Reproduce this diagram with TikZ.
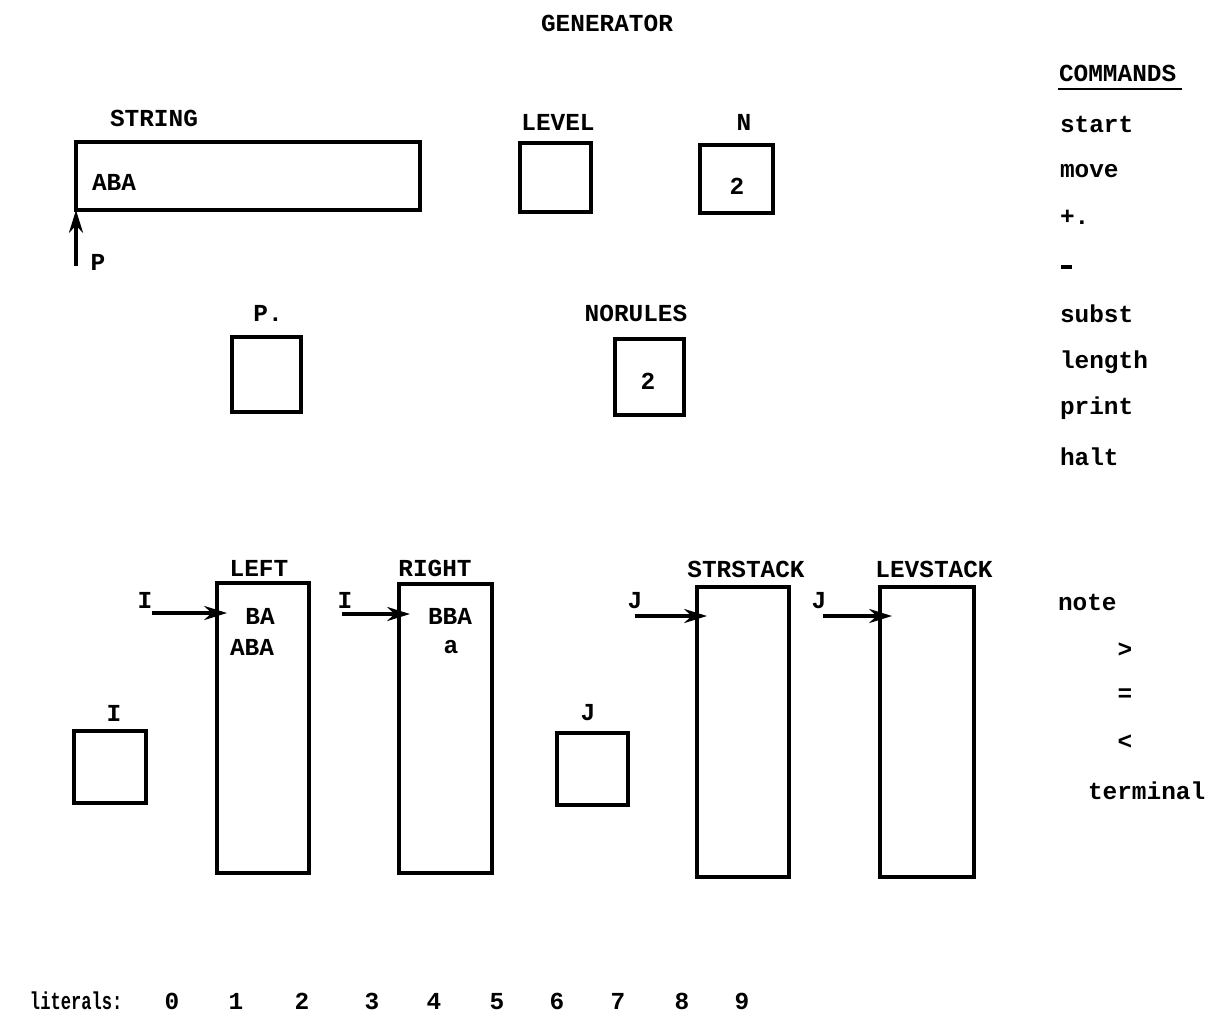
\documentclass[tikz,border=0pt]{standalone}
\usepackage{fontspec}
\setmainfont{Liberation Mono}
\newfontfamily\litfont[FakeStretch=0.7]{Liberation Mono}
\usetikzlibrary{arrows.meta}
\newcommand\regbox[5]{\node[reg, minimum width={(#4-#2)*0.02cm}, minimum height={(#5-#3)*0.02cm}] (#1) at ({(#2+#4)/2},{(#3+#5)/2}) {};}
\begin{document}
\begin{tikzpicture}[x=0.02cm,y=-0.02cm,
  every node/.style={inner sep=0pt, outer sep=0pt},
  txt/.style={font=\fontsize{13.9}{16}\selectfont\bfseries},
  littxt/.style={font=\fontsize{13.9}{16}\selectfont\litfont\bfseries},
  reg/.style={draw, line width=2.2pt},
  ptr/.style={-{Stealth[length=13pt,width=8pt]}, line width=2pt}]
\useasboundingbox[fill=white] (0,0) rectangle (1219,1015);

% title
\node[txt] (gen) at (607,23) {GENERATOR};

% top row
\node[txt] (lstring) at (154,118) {STRING};
\regbox{string}{76}{142}{420}{210}
\node[txt, anchor=west] (vstring) at (92,182) {ABA};
\node[txt] (lp) at (98,262) {P};
\coordinate (ptail) at (76,266);
\draw[ptr] (ptail) -- (string.south west);

\node[txt] (llevel) at (558,122) {LEVEL};
\regbox{level}{520}{143}{591}{212}
\node[txt] (ln) at (744,122) {N};
\regbox{n}{700}{145}{773}{213}
\node[txt] (vn) at (737,186) {2};

% second row
\node[txt] (lpp) at (268,313) {P.};
\regbox{pbox}{232}{337}{301}{412}
\node[txt] (lnorules) at (636,313) {NORULES};
\regbox{norules}{615}{339}{684}{415}
\node[txt] (vnorules) at (648,381) {2};

% arrays
\node[txt] (lleft) at (259,568) {LEFT};
\regbox{left}{217}{583}{309}{873}
\node[txt] (vleft1) at (260,616) {BA};
\node[txt] (vleft2) at (252,647) {ABA};

\node[txt] (lright) at (435,568) {RIGHT};
\regbox{right}{399}{584}{492}{873}
\node[txt] (vright1) at (450,616) {BBA};
\node[txt] (vright2) at (451,647) {a};

\node[txt] (lstr) at (746,569) {STRSTACK};
\regbox{strstack}{697}{587}{789}{877}
\node[txt] (llev) at (934,569) {LEVSTACK};
\regbox{levstack}{880}{587}{974}{877}

% pointers
\node[txt] (li1) at (145,600) {I};
\coordinate (i1t) at (152,613);
\coordinate (i1h) at (227,613);
\draw[ptr] (i1t) -- (i1h);
\node[txt] (li2) at (345,600) {I};
\coordinate (i2t) at (342,614);
\coordinate (i2h) at (410,614);
\draw[ptr] (i2t) -- (i2h);
\node[txt] (lj1) at (635,601) {J};
\coordinate (j1t) at (635,616);
\coordinate (j1h) at (707,616);
\draw[ptr] (j1t) -- (j1h);
\node[txt] (lj2) at (819,601) {J};
\coordinate (j2t) at (823,616);
\coordinate (j2h) at (892,616);
\draw[ptr] (j2t) -- (j2h);

% index registers
\node[txt] (li) at (114,713) {I};
\regbox{ibox}{74}{731}{146}{803}
\node[txt] (lj) at (588,713) {J};
\regbox{jbox}{557}{733}{628}{805}

% commands
\node[txt, anchor=west] (cmd) at (1059,73) {COMMANDS};
\draw[line width=1.6pt] (1058,89) -- (1182,89);
\foreach \t/\y [count=\k] in {start/124, move/171, +./217, subst/314, length/362, print/408, halt/457}
  \node[txt, anchor=west] (c\k) at (1060,\y) {\t};
\draw[line width=2.2pt] (1061,267) -- (1072,267);
\node[txt, anchor=west] (note) at (1058,602) {note};
\node[txt] (gt) at (1125,650) {>};
\node[txt] (eq) at (1125,695) {=};
\node[txt] (lt) at (1125,742) {<};
\node[txt, anchor=west] (term) at (1088,791) {terminal};

% literals
\node[littxt, anchor=base west] (lit) at (30,1009) {literals:};
\foreach \d/\x in {0/172, 1/236, 2/302, 3/372, 4/434, 5/497, 6/557, 7/618, 8/682, 9/742}
  \node[txt, anchor=base] (d\d) at (\x,1009) {\d};
\end{tikzpicture}
\end{document}
